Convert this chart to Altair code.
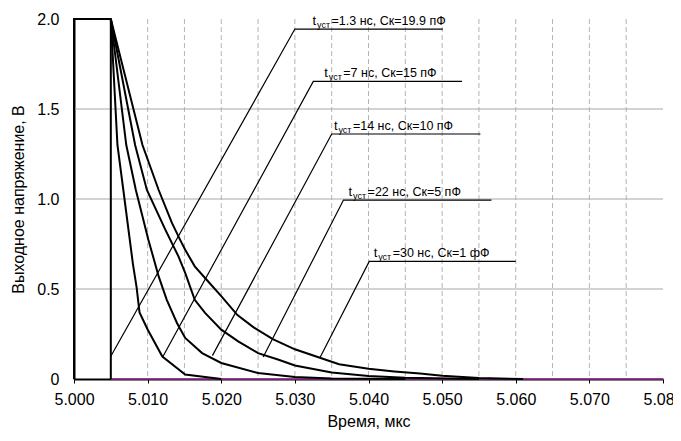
import altair as alt
import pandas as pd

# ---- curve data (time in µs, voltage in V) ----
a_t = [5.000, 5.000, 5.005, 5.005]
a_v = [0.0, 2.0, 2.0, 0.0]

b_t = [5.005, 5.0059, 5.0067, 5.008, 5.0085, 5.0089, 5.010, 5.012, 5.0151, 5.020]
b_v = [2.0, 1.30, 1.05, 0.64, 0.51, 0.37, 0.275, 0.125, 0.025, 0.0]

c_t = [5.005, 5.0071, 5.0084, 5.0101, 5.0115, 5.0126, 5.014, 5.0151, 5.0174, 5.020, 5.025, 5.030, 5.035, 5.045]
c_v = [2.0, 1.30, 1.05, 0.774, 0.57, 0.44, 0.31, 0.228, 0.144, 0.089, 0.033, 0.011, 0.003, 0.0]

d_t = [5.005, 5.0083, 5.0099, 5.0124, 5.0142, 5.0151, 5.0164, 5.0178, 5.020, 5.0223, 5.025, 5.0278, 5.030, 5.035, 5.040, 5.045, 5.055]
d_v = [2.0, 1.30, 1.05, 0.83, 0.68, 0.59, 0.44, 0.367, 0.274, 0.209, 0.144, 0.107, 0.075, 0.036, 0.016, 0.007, 0.0]

e_t = [5.005, 5.0093, 5.0115, 5.0133, 5.0144, 5.0151, 5.0164, 5.0178, 5.020, 5.0222, 5.0244, 5.027, 5.030, 5.0335, 5.036, 5.040, 5.0435, 5.047, 5.050, 5.055, 5.061]
e_v = [2.0, 1.30, 1.05, 0.867, 0.774, 0.718, 0.626, 0.561, 0.46, 0.355, 0.287, 0.222, 0.165, 0.117, 0.082, 0.057, 0.042, 0.03, 0.018, 0.006, 0.0]

base_t = [5.005, 5.080]
base_v = [0.0, 0.0]

# ---- annotation leaders ----
leader_start_t = [5.005, 5.0121, 5.0188, 5.0257, 5.0334]
leader_start_v = [0.126, 0.126, 0.13, 0.122, 0.118]
elbow_t = [5.0300, 5.0325, 5.0350, 5.0366, 5.0401]
elbow_v = [1.944, 1.653, 1.361, 0.994, 0.653]
end_t = [5.0501, 5.0527, 5.0552, 5.0567, 5.0600]
label_t = [5.0324, 5.0340, 5.0353, 5.0373, 5.0407]
label_rest = ["=1.3 нс, Ск=19.9 пФ", "=7 нс, Ск=15 пФ", "=14 нс, Ск=10 пФ",
              "=22 нс, Ск=5 пФ", "=30 нс, Ск=1 фФ"]

# ---- grid / ticks ----
x_ticks = [5.000, 5.005, 5.010, 5.015, 5.020, 5.025, 5.030, 5.035, 5.040,
           5.045, 5.050, 5.055, 5.060, 5.065, 5.070, 5.075, 5.080]
v_grid = [5.005, 5.010, 5.015, 5.020, 5.025, 5.030, 5.035, 5.040,
          5.045, 5.050, 5.055, 5.060, 5.065, 5.070, 5.075]
y_ticks = [0.0, 0.5, 1.0, 1.5, 2.0]
h_grid = [0.5, 1.0, 1.5]

rows = []
for name, ts, vs in [("A", a_t, a_v), ("B", b_t, b_v), ("C", c_t, c_v),
                     ("D", d_t, d_v), ("E", e_t, e_v)]:
    for i, (t, v) in enumerate(zip(ts, vs)):
        rows.append({"s": name, "t": t, "v": v, "o": i})
curves = pd.DataFrame(rows)
base = pd.DataFrame({"t": base_t, "v": base_v, "o": [0, 1]})

lrows = []
for i in range(5):
    lrows.append({"k": i, "t": leader_start_t[i], "v": leader_start_v[i], "o": 0})
    lrows.append({"k": i, "t": elbow_t[i], "v": elbow_v[i], "o": 1})
    lrows.append({"k": i, "t": end_t[i], "v": elbow_v[i], "o": 2})
leaders = pd.DataFrame(lrows)
labels = pd.DataFrame({"t": label_t, "v": elbow_v, "rest": label_rest,
                       "tt": ["t"] * 5, "sub": ["уст"] * 5})

FONT = "Liberation Sans"
xscale = alt.Scale(domain=[5.0, 5.08], nice=False, zero=False)
yscale = alt.Scale(domain=[0, 2], nice=False)

vg = alt.Chart(pd.DataFrame({"t": v_grid})).mark_rule(
    color="#b4b4b4", strokeWidth=1, strokeDash=[5, 3]
).encode(x=alt.X("t:Q", scale=xscale), y=alt.value(0), y2=alt.value(360))

hg = alt.Chart(pd.DataFrame({"v": h_grid})).mark_rule(
    color="#a8a8a8", strokeWidth=1.2
).encode(y=alt.Y("v:Q", scale=yscale), x=alt.value(0), x2=alt.value(589))

axes = alt.Chart(pd.DataFrame({"t": [5.0], "v": [0.0]})).mark_point(opacity=0).encode(
    x=alt.X("t:Q", scale=xscale, axis=alt.Axis(
        values=x_ticks, title="Время, мкс", grid=False,
        labelExpr="(round(datum.value*1000) % 10 == 0) ? format(datum.value, '.3f') : ''",
        tickSize=4, tickColor="black", domainColor="black", domainWidth=2,
        labelPadding=8, titlePadding=6, labelFlush=False)),
    y=alt.Y("v:Q", scale=yscale, axis=alt.Axis(
        values=y_ticks, title="Выходное напряжение, В", grid=False,
        labelExpr="datum.value == 0 ? '0' : format(datum.value, '.1f')",
        ticks=False, domainColor="black", domainWidth=2,
        labelPadding=15, titlePadding=10, labelFlush=False)),
)

baseline = alt.Chart(base).mark_line(color="#9c2a94", strokeWidth=1.6).encode(
    x=alt.X("t:Q", scale=xscale), y=alt.Y("v:Q", scale=yscale), order="o:Q")

lines = alt.Chart(curves).mark_line(color="black", strokeWidth=2).encode(
    x=alt.X("t:Q", scale=xscale), y=alt.Y("v:Q", scale=yscale),
    detail="s:N", order="o:Q")

lead = alt.Chart(leaders).mark_line(color="black", strokeWidth=1.2).encode(
    x=alt.X("t:Q", scale=xscale), y=alt.Y("v:Q", scale=yscale),
    detail="k:N", order="o:Q")

t_text = alt.Chart(labels).mark_text(
    align="left", baseline="alphabetic", dy=-4, font=FONT, fontSize=13, color="black"
).encode(x=alt.X("t:Q", scale=xscale), y=alt.Y("v:Q", scale=yscale), text="tt:N")

sub_text = alt.Chart(labels).mark_text(
    align="left", baseline="alphabetic", dx=4.5, dy=-1.5, font=FONT, fontSize=9, color="black"
).encode(x=alt.X("t:Q", scale=xscale), y=alt.Y("v:Q", scale=yscale), text="sub:N")

rest_text = alt.Chart(labels).mark_text(
    align="left", baseline="alphabetic", dx=19, dy=-4, font=FONT, fontSize=12.5, color="black"
).encode(x=alt.X("t:Q", scale=xscale), y=alt.Y("v:Q", scale=yscale), text="rest:N")

chart = alt.layer(vg, hg, axes, baseline, lines, lead, t_text, sub_text, rest_text).properties(
    width=589, height=360,
    padding={"left": 66, "top": 11, "right": 10, "bottom": 54},
    autosize=alt.AutoSizeParams(type="none"),
    background="white",
).configure_view(stroke=None).configure_axis(
    labelFont=FONT, labelFontSize=16, labelColor="black",
    titleFont=FONT, titleFontSize=16, titleFontWeight="normal", titleColor="black",
)

chart.save("out.html", embed_options={"renderer": "svg", "actions": False})
